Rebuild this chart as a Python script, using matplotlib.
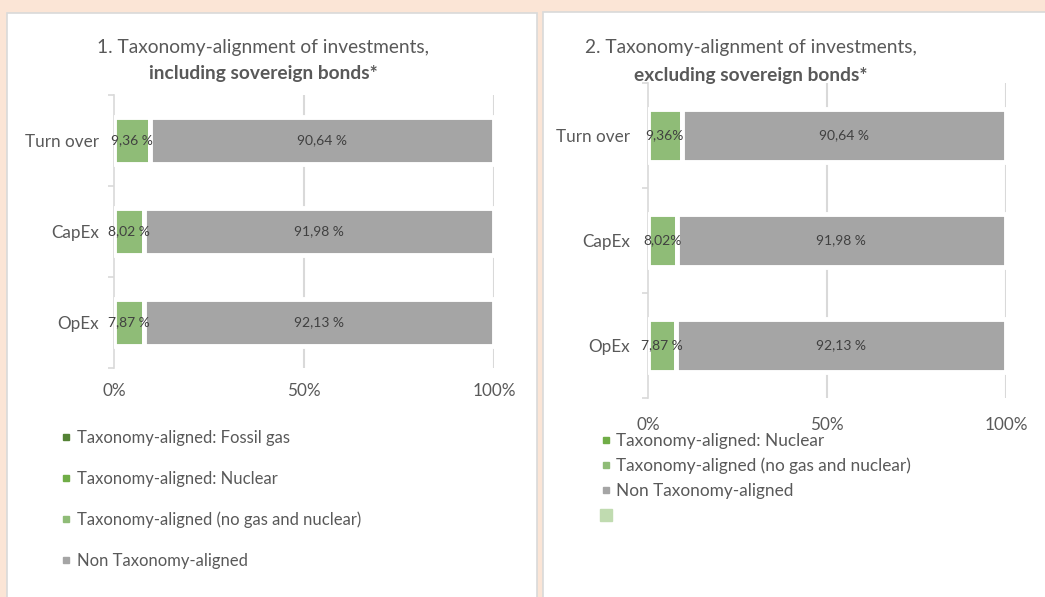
import matplotlib
matplotlib.use("Agg")
import matplotlib.pyplot as plt
from matplotlib.patches import Rectangle
from matplotlib.lines import Line2D

plt.rcParams['font.family'] = ['Lato', 'DejaVu Sans']

W, H = 1045, 597

categories = ["Turn over", "CapEx", "OpEx"]
series_names = ["Taxonomy-aligned: Fossil gas", "Taxonomy-aligned: Nuclear",
                "Taxonomy-aligned (no gas and nuclear)", "Non Taxonomy-aligned"]

# chart 1: including sovereign bonds
incl_fossil = [0, 0, 0]
incl_nuclear = [0, 0, 0]
incl_aligned = [9.36, 8.02, 7.87]
incl_non = [90.64, 91.98, 92.13]
incl_aligned_labels = ["9,36 %", "8,02 %", "7,87 %"]
incl_non_labels = ["90,64 %", "91,98 %", "92,13 %"]

# chart 2: excluding sovereign bonds
excl_nuclear = [0, 0, 0]
excl_aligned = [9.36, 8.02, 7.87]
excl_non = [90.64, 91.98, 92.13]
excl_aligned_labels = ["9,36%", "8,02%", "7,87 %"]
excl_non_labels = ["90,64 %", "91,98 %", "92,13 %"]

xticks = [0, 50, 100]
xtick_labels = ["0%", "50%", "100%"]

c_fossil = "#548235"
c_nuclear = "#70ad47"
c_aligned = "#8fbc77"
c_non = "#a5a5a5"
c_extra = "#c0dbb0"
txt = "#595959"
grid_c = "#d9d9d9"


def box(x0, y0, x1, y1):
    return [x0 / W, 1 - y1 / H, (x1 - x0) / W, (y1 - y0) / H]


fig = plt.figure(figsize=(W / 100, H / 100), dpi=100)
fig.patch.set_facecolor("#fbe5d6")

# white panels
for x0, y0, x1, y1 in [(7, 13, 537, 605), (543, 12, 1055, 605)]:
    fig.patches.append(Rectangle((x0 / W, 1 - y1 / H), (x1 - x0) / W, (y1 - y0) / H,
                                 transform=fig.transFigure, facecolor="white",
                                 edgecolor=grid_c, linewidth=1.2, zorder=-5))


def draw(ax, stacks, colors, labels, label_pad, tick_pad, height):
    y = list(range(len(categories)))
    left = [0] * len(categories)
    for vals, col, lab in zip(stacks, colors, labels):
        bars = ax.barh(y, vals, left=left, height=height, color=col,
                       edgecolor="white", linewidth=3.5, zorder=3)
        if lab is not None:
            ax.bar_label(bars, labels=lab, label_type="center", fontsize=10,
                         color="#404040", zorder=4)
        left = [a + b for a, b in zip(left, vals)]
    ax.set_xlim(0, 100)
    ax.set_ylim(len(categories) - 0.5, -0.5)
    ax.set_yticks(y)
    ax.set_yticklabels(categories, fontsize=12.3, color=txt)
    ax.set_yticks([i - 0.5 for i in range(len(categories) + 1)], minor=True)
    ax.tick_params(axis="y", which="major", length=0, pad=label_pad)
    ax.tick_params(axis="y", which="minor", length=4, color=grid_c, width=1.2)
    ax.set_xticks(xticks)
    ax.set_xticklabels(xtick_labels, fontsize=12.3, color=txt)
    ax.tick_params(axis="x", length=0, pad=tick_pad)
    for v in xticks[1:]:
        ax.axvline(v, color=grid_c, linewidth=1.5, zorder=1)
    for s in ["top", "right", "bottom"]:
        ax.spines[s].set_visible(False)
    ax.spines["left"].set_color(grid_c)
    ax.spines["left"].set_linewidth(1.2)
    ax.set_facecolor("none")


ax1 = fig.add_axes(box(114, 95, 494, 368))
draw(ax1, [incl_fossil, incl_nuclear, incl_aligned, incl_non],
     [c_fossil, c_nuclear, c_aligned, c_non],
     [None, None, incl_aligned_labels, incl_non_labels], 11, 11, 0.52)

ax2 = fig.add_axes(box(648, 83, 1006, 398))
draw(ax2, [excl_nuclear, excl_aligned, excl_non],
     [c_nuclear, c_aligned, c_non],
     [None, excl_aligned_labels, excl_non_labels], 13, 14, 0.51)

# titles
fig.text(263 / W, 1 - 47 / H, "1. Taxonomy-alignment of investments,",
         ha="center", va="center", fontsize=13.8, color=txt)
fig.text(263 / W, 1 - 73 / H, "including sovereign bonds*",
         ha="center", va="center", fontsize=13.8, color=txt, fontweight="bold")
fig.text(751 / W, 1 - 47 / H, "2. Taxonomy-alignment of investments,",
         ha="center", va="center", fontsize=13.8, color=txt)
fig.text(751 / W, 1 - 76 / H, "excluding sovereign bonds*",
         ha="center", va="center", fontsize=13.8, color=txt, fontweight="bold")

# legends
h1 = [Line2D([], [], ls="none", marker="s", markersize=4, color=c)
      for c in [c_fossil, c_nuclear, c_aligned, c_non]]
leg1 = fig.legend(h1, series_names, loc="upper left",
                  bbox_to_anchor=(54 / W, 1 - 423 / H), frameon=False,
                  fontsize=12, labelcolor=txt, handlelength=0.6,
                  handletextpad=0.4, labelspacing=1.5, borderaxespad=0)

h2 = [Line2D([], [], ls="none", marker="s", markersize=4, color=c)
      for c in [c_nuclear, c_aligned, c_non]]
h2.append(Line2D([], [], ls="none", marker="s", markersize=8, color=c_extra))
leg2 = fig.legend(h2, series_names[1:] + [""], loc="upper left",
                  bbox_to_anchor=(594 / W, 1 - 426 / H), frameon=False,
                  fontsize=12.4, labelcolor=txt, handlelength=0.6,
                  handletextpad=0.3, labelspacing=0.52, borderaxespad=0)

fig.savefig("out.png", dpi=100, facecolor=fig.get_facecolor())
